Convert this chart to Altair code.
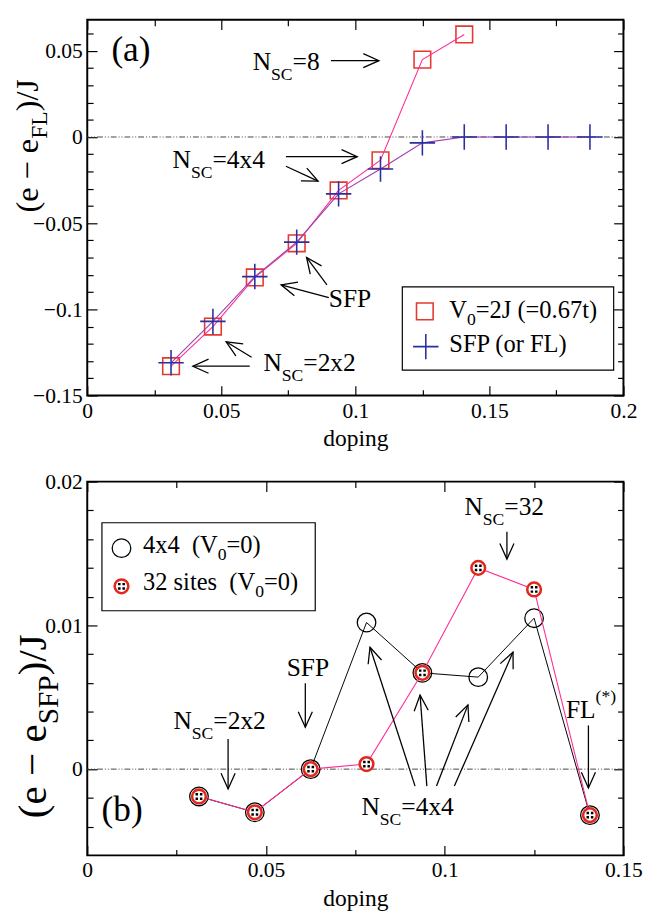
import math
import altair as alt
import pandas as pd

FONT = "Liberation Serif"

# ---------------- panel (a) data ----------------
A_DOP_V0 = [0.03125, 0.046875, 0.0625, 0.078125, 0.09375, 0.109375, 0.125, 0.140625]
A_E_V0 = [-0.133, -0.110, -0.0815, -0.0617, -0.031, -0.0135, 0.0449, 0.0595]
A_DOP_SFP = [0.03125, 0.046875, 0.0625, 0.078125, 0.09375, 0.109375, 0.125,
             0.140625, 0.15625, 0.171875, 0.1875]
A_E_SFP = [-0.131, -0.107, -0.081, -0.061, -0.033, -0.0186, -0.0034, 0.0, 0.0, 0.0, 0.0]

# ---------------- panel (b) data ----------------
B_DOP = [0.03125, 0.046875, 0.0625, 0.078125, 0.09375, 0.109375, 0.125, 0.140625]
B_E_4X4 = [-0.0019, -0.0030, 0.0, 0.0102, 0.0067, 0.0064, 0.0105, -0.0032]
B_E_32 = [-0.0019, -0.0030, 0.0, 0.00035, 0.0067, 0.0140, 0.0125, -0.0032]

# ---------------- axes ----------------
XA_DOM = [0, 0.2]
YA_DOM = [-0.15, 0.068]
XB_DOM = [0, 0.15]
YB_DOM = [-0.006, 0.02]
XA_MAJOR = [0, 0.05, 0.1, 0.15, 0.2]
XA_MINOR = [0.025, 0.075, 0.125, 0.175]
YA_MAJOR = [-0.15, -0.1, -0.05, 0, 0.05]
YA_MINOR = [-0.14, -0.13, -0.12, -0.11, -0.09, -0.08, -0.07, -0.06, -0.04, -0.03,
            -0.02, -0.01, 0.01, 0.02, 0.03, 0.04, 0.06]
XB_MAJOR = [0, 0.05, 0.1, 0.15]
XB_MINOR = [0.025, 0.075, 0.125]
YB_MAJOR = [0, 0.01, 0.02]
YB_MINOR = [-0.004, -0.002, 0.002, 0.004, 0.006, 0.008, 0.012, 0.014, 0.016, 0.018]
X_TITLE = "doping"

# ---------------- texts ----------------
A_YTITLE = [("(e \u2212 e", "ta"), ("FL", "tasub"), (")/J", "ta")]
B_YTITLE = [("(e \u2212 e", "tb"), ("SFP", "tbsub"), (")/J", "tb")]

A_LEGEND = [[("V", "leg"), ("0", "legsub"), ("=2J (=0.67t)", "leg")],
            [("SFP (or FL)", "leg")]]
B_LEGEND = [[("4x4\u00a0\u00a0(V", "leg"), ("0", "legsub"), ("=0)", "leg")],
            [("32 sites\u00a0\u00a0(V", "leg"), ("0", "legsub"), ("=0)", "leg")]]

A_TXT_POS = [(0.009, 0.044), (0.0617, 0.0386), (0.0318, -0.0182),
             (0.0901, -0.0989), (0.0657, -0.1358)]
A_TXT = [[("(a)", "big")],
         [("N", "main"), ("SC", "sub"), ("=8", "main")],
         [("N", "main"), ("SC", "sub"), ("=4x4", "main")],
         [("SFP", "main")],
         [("N", "main"), ("SC", "sub"), ("=2x2", "main")]]
A_ARROWS = [(0.0909, 0.0443, 0.1088, 0.0443),
            (0.0741, -0.0114, 0.1007, -0.0114),
            (0.0741, -0.0170, 0.0861, -0.0256),
            (0.0894, -0.0858, 0.0818, -0.0699),
            (0.0901, -0.0932, 0.0723, -0.0858),
            (0.0606, -0.1330, 0.0394, -0.1330),
            (0.0613, -0.1278, 0.0518, -0.1188)]

B_TXT_POS = [(0.004, -0.0036), (0.0241, 0.00277), (0.0558, 0.00651),
             (0.1055, 0.01767), (0.0767, -0.00322), (0.1339, 0.00359)]
B_TXT = [[("(b)", "big")],
         [("N", "main"), ("SC", "sub"), ("=2x2", "main")],
         [("SFP", "main")],
         [("N", "main"), ("SC", "sub"), ("=32", "main")],
         [("N", "main"), ("SC", "sub"), ("=4x4", "main")],
         [("FL", "main"), ("(*)", "sup")]]
B_ARROWS = [(0.0394, 0.00209, 0.0394, -0.00138),
            (0.0610, 0.00597, 0.0610, 0.00291),
            (0.1174, 0.01651, 0.1174, 0.01461),
            (0.0917, -0.00118, 0.0791, 0.00848),
            (0.0950, -0.00118, 0.0931, 0.00515),
            (0.0977, -0.00118, 0.1065, 0.00447),
            (0.1027, -0.00118, 0.1191, 0.00814),
            (0.1402, 0.00304, 0.1402, -0.00131)]

# ---------------- styles ----------------
W = 548
HA = 384
HB = 382
ROLE = {"big": (36, 0), "main": (26, 0), "sub": (18, 10), "sup": (18, -16),
        "leg": (25, 0), "legsub": (18, 7),
        "ta": (33, 0), "tasub": (24, 9), "tb": (42, 0), "tbsub": (30, 13)}
TIMES = {"N": .722, "S": .556, "C": .667, "=": .564, "8": .5, "4": .5, "x": .5,
         "2": .5, "3": .5, "F": .556, "P": .556, "L": .611, "(": .333, ")": .333,
         "*": .5, "e": .444, " ": .25, "\u00a0": .25, "\u2212": .564, "/": .278,
         "J": .389, "V": .722, "0": .5, ".": .25, "6": .5, "7": .5, "t": .278,
         "s": .389, "i": .278, "a": .444, "b": .5, "o": .5, "r": .333}
CROSS = "M-1,0L1,0M0,-1L0,1"
HEAD = "M-0.45,1L0,0L0.45,1"
DOTS = ("M-0.5,-0.5h0.36v0.36h-0.36z M0.14,-0.5h0.36v0.36h-0.36z "
        "M-0.5,0.14h0.36v0.36h-0.36z M0.14,0.14h0.36v0.36h-0.36z")


def tw(s, size):
    return sum(TIMES.get(c, 0.5) for c in s) * size


def sc(dom):
    return alt.Scale(domain=dom, nice=False, zero=False)


def XE(field, dom, axis=None):
    return alt.X(field, type="quantitative", scale=sc(dom), axis=axis)


def YE(field, dom, axis=None):
    return alt.Y(field, type="quantitative", scale=sc(dom), axis=axis)


def tick_axis(orient, values, size):
    return alt.Axis(orient=orient, values=values, ticks=True, tickSize=size,
                    offset=-size, labels=False, domain=False, grid=False,
                    title=None, tickColor="black", tickWidth=1.2,
                    minExtent=0, maxExtent=size)


def label_axis(orient, values, title=None):
    kw = dict(orient=orient, values=values, ticks=False, domain=False, grid=False,
              labels=True, format=".3~g", labelFont=FONT, labelFontSize=22,
              labelColor="black", labelPadding=5, labelFlush=False,
              labelOverlap=False)
    if title:
        kw.update(title=title, titleFont=FONT, titleFontSize=24,
                  titleFontWeight="normal", titleColor="black", titlePadding=6)
    else:
        kw["title"] = None
    return alt.Axis(**kw)


def axis_layers(df, xdom, ydom, xmaj, xmin, ymaj, ymin):
    specs = [
        (label_axis("bottom", xmaj, X_TITLE), label_axis("left", ymaj)),
        (tick_axis("bottom", xmaj, 10), tick_axis("left", ymaj, 10)),
        (tick_axis("bottom", xmin, 6), tick_axis("left", ymin, 6)),
        (tick_axis("top", xmaj, 10), tick_axis("right", ymaj, 10)),
        (tick_axis("top", xmin, 6), tick_axis("right", ymin, 6)),
    ]
    out = []
    for ax, ay in specs:
        out.append(alt.Chart(df).mark_point(opacity=0).encode(
            x=XE("x", xdom, ax), y=YE("y", ydom, ay)))
    return out


def rich(parts, xdom=None, ydom=None, x=None, y=None, px=None, py=None, angle=0):
    layers = []
    off = 0.0
    for text, role in parts:
        size, dy = ROLE[role]
        df = pd.DataFrame({"x": [x if x is not None else 0.0],
                           "y": [y if y is not None else 0.0], "t": [text]})
        m = alt.Chart(df).mark_text(align="left", baseline="alphabetic", font=FONT,
                                    fontSize=size, dx=off, dy=dy, angle=angle,
                                    color="black")
        if px is not None:
            enc = dict(x=alt.value(px), y=alt.value(py))
        else:
            enc = dict(x=XE("x", xdom), y=YE("y", ydom))
        layers.append(m.encode(text="t:N", **enc))
        off += tw(text, size)
    return layers


def arrows(lst, xdom, ydom, sx, sy):
    df = pd.DataFrame(lst, columns=["x1", "y1", "x2", "y2"])
    df["ang"] = [math.degrees(math.atan2((r.x2 - r.x1) * sx, (r.y2 - r.y1) * sy)) % 360
                 for r in df.itertuples()]
    shaft = alt.Chart(df).mark_rule(color="black", strokeWidth=1.3).encode(
        x=XE("x1", xdom), y=YE("y1", ydom), x2="x2:Q", y2="y2:Q")
    head = alt.Chart(df).mark_point(shape=HEAD, size=1024, filled=False, color="black",
                                    strokeWidth=1.3, opacity=1).encode(
        x=XE("x2", xdom), y=YE("y2", ydom), angle=alt.Angle("ang:Q", scale=None))
    return [shaft, head]


def zero_line(ydom):
    return alt.Chart(pd.DataFrame({"y": [0.0]})).mark_rule(
        color="#444444", strokeWidth=1, strokeDash=[6, 2, 1, 2, 1, 2]).encode(
        y=YE("y", ydom))


def left_anchor():
    # invisible mark fixing the left extent of each panel
    return alt.Chart(one).mark_rule(color="white", opacity=0, strokeWidth=1).encode(
        x=alt.value(-79.5), x2=alt.value(-79.5), y=alt.value(100), y2=alt.value(110))


one = pd.DataFrame({"k": [0]})

# ================= panel (a) =================
df_sq = pd.DataFrame({"x": A_DOP_V0, "y": A_E_V0})
df_cr = pd.DataFrame({"x": A_DOP_SFP, "y": A_E_SFP})
sxa = W / (XA_DOM[1] - XA_DOM[0])
sya = HA / (YA_DOM[1] - YA_DOM[0])

la = []
la += axis_layers(df_cr, XA_DOM, YA_DOM, XA_MAJOR, XA_MINOR, YA_MAJOR, YA_MINOR)
la.append(zero_line(YA_DOM))
la.append(alt.Chart(df_sq).mark_point(shape="square", size=289, filled=False,
                                      color="#e3392e", strokeWidth=1.6, opacity=1)
          .encode(x=XE("x", XA_DOM), y=YE("y", YA_DOM)))
la.append(alt.Chart(df_sq).mark_line(color="#ff2d96", strokeWidth=1.1)
          .encode(x=XE("x", XA_DOM), y=YE("y", YA_DOM)))
la.append(alt.Chart(df_cr).mark_line(color="#9b3fae", strokeWidth=1.1)
          .encode(x=XE("x", XA_DOM), y=YE("y", YA_DOM)))
la.append(alt.Chart(df_cr).mark_point(shape=CROSS, size=676, filled=False,
                                      color="#2b2f9e", strokeWidth=1.6, opacity=1)
          .encode(x=XE("x", XA_DOM), y=YE("y", YA_DOM)))
for (tx, ty), parts in zip(A_TXT_POS, A_TXT):
    la += rich(parts, XA_DOM, YA_DOM, x=tx, y=ty)
la += arrows(A_ARROWS, XA_DOM, YA_DOM, sxa, sya)
# legend (a)
la.append(alt.Chart(one).mark_rect(fill="white", stroke="black", strokeWidth=1.2)
          .encode(x=alt.value(322), x2=alt.value(538), y=alt.value(273), y2=alt.value(358)))
la.append(alt.Chart(one).mark_point(shape="square", size=289, filled=False,
                                    color="#e3392e", strokeWidth=1.6, opacity=1)
          .encode(x=alt.value(345), y=alt.value(298)))
la.append(alt.Chart(one).mark_point(shape=CROSS, size=676, filled=False,
                                    color="#2b2f9e", strokeWidth=1.6, opacity=1)
          .encode(x=alt.value(346), y=alt.value(334)))
la += rich(A_LEGEND[0], px=370, py=305)
la += rich(A_LEGEND[1], px=370, py=340)
la += rich(A_YTITLE, px=-50.5, py=197, angle=270)
la.append(left_anchor())

top = alt.layer(*la).properties(width=W, height=HA).resolve_axis(x="independent", y="independent")

# ================= panel (b) =================
df_b4 = pd.DataFrame({"x": B_DOP, "y": B_E_4X4})
df_b32 = pd.DataFrame({"x": B_DOP, "y": B_E_32})
sxb = W / (XB_DOM[1] - XB_DOM[0])
syb = HB / (YB_DOM[1] - YB_DOM[0])

lb = []
lb += axis_layers(df_b4, XB_DOM, YB_DOM, XB_MAJOR, XB_MINOR, YB_MAJOR, YB_MINOR)
lb.append(zero_line(YB_DOM))
lb.append(alt.Chart(df_b4).mark_line(color="black", strokeWidth=1)
          .encode(x=XE("x", XB_DOM), y=YE("y", YB_DOM)))
lb.append(alt.Chart(df_b4).mark_point(shape="circle", size=361, filled=False,
                                      color="black", strokeWidth=1.3, opacity=1)
          .encode(x=XE("x", XB_DOM), y=YE("y", YB_DOM)))
lb.append(alt.Chart(df_b32).mark_line(color="#ff2d96", strokeWidth=1.1)
          .encode(x=XE("x", XB_DOM), y=YE("y", YB_DOM)))
lb.append(alt.Chart(df_b32).mark_point(shape="circle", size=196, filled=True, fill="white",
                                       stroke="#e0281e", strokeWidth=2.6, opacity=1)
          .encode(x=XE("x", XB_DOM), y=YE("y", YB_DOM)))
lb.append(alt.Chart(df_b32).mark_point(shape=DOTS, size=196, filled=True, fill="black",
                                       strokeWidth=0, opacity=1)
          .encode(x=XE("x", XB_DOM), y=YE("y", YB_DOM)))
for (tx, ty), parts in zip(B_TXT_POS, B_TXT):
    lb += rich(parts, XB_DOM, YB_DOM, x=tx, y=ty)
lb += arrows(B_ARROWS, XB_DOM, YB_DOM, sxb, syb)
# legend (b)
lb.append(alt.Chart(one).mark_rect(fill="white", stroke="black", strokeWidth=1.2)
          .encode(x=alt.value(15), x2=alt.value(233), y=alt.value(42), y2=alt.value(132)))
lb.append(alt.Chart(one).mark_point(shape="circle", size=361, filled=False,
                                    color="black", strokeWidth=1.3, opacity=1)
          .encode(x=alt.value(35), y=alt.value(68)))
lb.append(alt.Chart(one).mark_point(shape="circle", size=196, filled=True, fill="white",
                                    stroke="#e0281e", strokeWidth=2.6, opacity=1)
          .encode(x=alt.value(35), y=alt.value(107)))
lb.append(alt.Chart(one).mark_point(shape=DOTS, size=196, filled=True, fill="black",
                                    strokeWidth=0, opacity=1)
          .encode(x=alt.value(35), y=alt.value(107)))
lb += rich(B_LEGEND[0], px=57, py=73)
lb += rich(B_LEGEND[1], px=57, py=111)
lb += rich(B_YTITLE, px=-42.5, py=344, angle=270)
lb.append(left_anchor())

bottom = alt.layer(*lb).properties(width=W, height=HB).resolve_axis(x="independent", y="independent")

chart = (alt.vconcat(top, bottom, spacing=19)
         .properties(padding=0)
         .configure(font=FONT)
         .configure_view(stroke="black", strokeWidth=2))

chart.save("out.html", embed_options={"renderer": "svg", "actions": False})
